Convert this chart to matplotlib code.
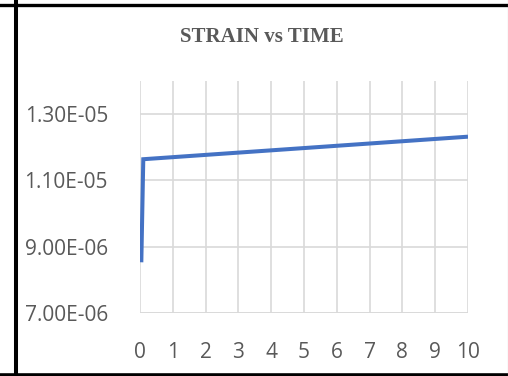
import matplotlib
matplotlib.use("Agg")
import matplotlib.pyplot as plt
from matplotlib.lines import Line2D

# strain readings over time
time = [0.04, 0.1, 10]
strain = [8.53e-6, 1.164e-5, 1.232e-5]

x_ticks = list(range(0, 11))
y_ticks = [7e-6, 9e-6, 1.1e-5, 1.3e-5]
y_tick_labels = ["7.00E-06", "9.00E-06", "1.10E-05", "1.30E-05"]

W, H = 508, 376
fig = plt.figure(figsize=(W / 100, H / 100), dpi=100)
ax = fig.add_axes([140 / W, 1 - 313 / H, 328 / W, 232 / H])

ax.plot(time, strain, color="#4472C4", lw=2.9, solid_capstyle="butt",
        solid_joinstyle="miter", zorder=3)

ax.set_xlim(0, 10)
ax.set_ylim(7e-6, 1.4e-5)
ax.set_xticks(x_ticks)
ax.set_yticks(y_ticks)
ax.set_yticklabels(y_tick_labels)

ax.grid(True, color="#d9d9d9", lw=1.2)
for s in ax.spines.values():
    s.set_visible(False)
ax.axhline(7e-6, color="#d9d9d9", lw=1.2, zorder=2)
ax.tick_params(length=0, labelsize=15, labelcolor="#595959")
ax.tick_params(axis="x", pad=21)
ax.tick_params(axis="y", pad=23)
for lab in ax.get_xticklabels() + ax.get_yticklabels():
    lab.set_family("Open Sans")

fig.text(262 / W, 1 - 37 / H, "STRAIN vs TIME", ha="center", va="center",
         fontsize=15, fontweight="bold", family="Liberation Serif",
         color="#595959")

# outer frame
fig.add_artist(Line2D([15.5 / W, 15.5 / W], [0, 1], color="black", lw=2.9))
fig.add_artist(Line2D([0, 1], [1 - 4.5 / H, 1 - 4.5 / H], color="black", lw=2.4))
fig.add_artist(Line2D([0, 1], [1 - 374.5 / H, 1 - 374.5 / H], color="black", lw=2.6))
fig.add_artist(Line2D([507.5 / W, 507.5 / W], [0, 1], color="#a0a0a0", lw=0.8))

fig.savefig("out.png", dpi=100)
